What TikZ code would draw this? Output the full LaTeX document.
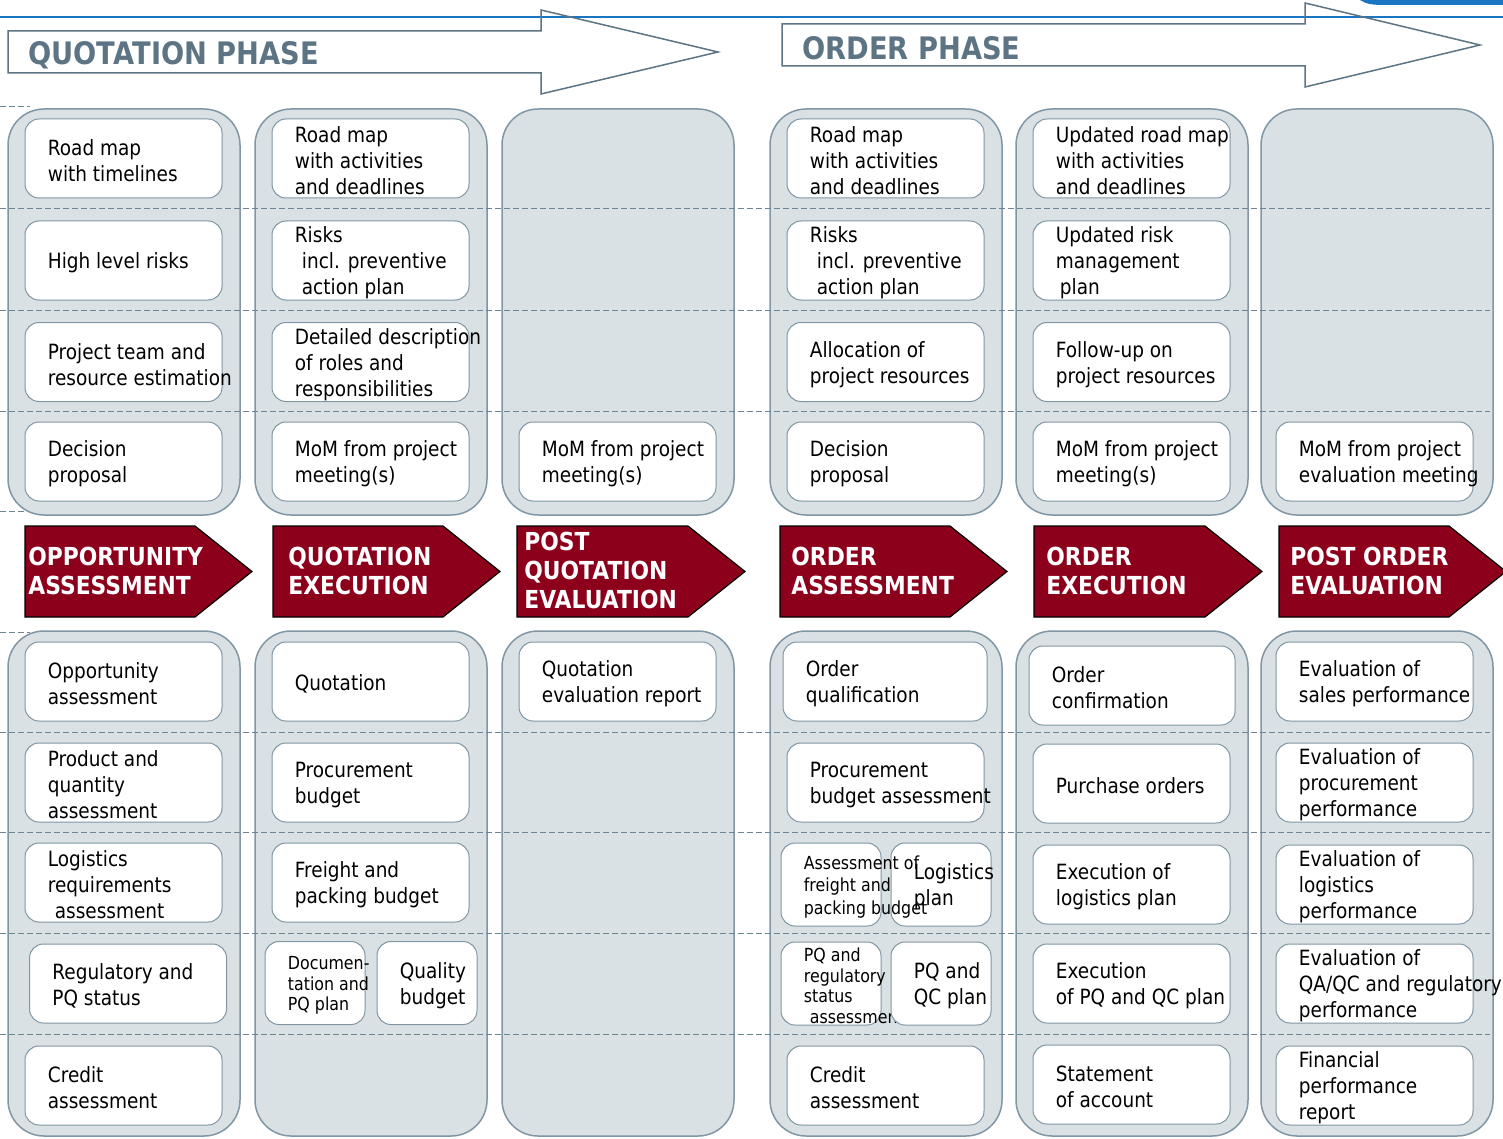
\documentclass[tikz,border=0pt]{standalone}
\usepackage{fontspec}
\setmainfont{DejaVu Sans}[FakeStretch=0.88]
\usepackage{tikz}

\definecolor{lanefill}{HTML}{D9E1E5}
\definecolor{laneline}{HTML}{8196A4}
\definecolor{boxline}{HTML}{8196A4}
\definecolor{rowdash}{HTML}{6B8595}
\definecolor{phasegray}{HTML}{5C7484}
\definecolor{stagered}{HTML}{8C001B}
\definecolor{topblue}{HTML}{1A75C2}

\tikzset{
  lane/.style={draw=laneline,fill=lanefill,line width=0.75pt,rounded corners=18pt},
  rowline/.style={draw=rowdash,line width=0.5pt,dash pattern=on 3pt off 1.5pt},
  taskbox/.style={draw=boxline,fill=white,line width=0.5pt,rounded corners=7pt,
    minimum width=98.5pt,minimum height=39.5pt,inner sep=0pt},
  tasktext/.style={anchor=west,align=left,inner sep=0pt,yshift=-1.2pt,
    font=\fontsize{10.5}{13}\selectfont},
  smalltext/.style={font=\fontsize{9}{10.3}\selectfont},
  halfbox/.style={minimum width=50pt,minimum height=41.5pt},
  stage/.style={fill=stagered,draw=black,line width=0.6pt},
  stagetext/.style={anchor=west,align=left,inner sep=0pt,text=white,
    font=\fontsize{12.4}{14.3}\selectfont\bfseries},
  phase/.style={draw=phasegray,line width=0.75pt},
  phasetext/.style={anchor=west,inner sep=0pt,text=phasegray,
    font=\fontsize{15.5}{18}\selectfont\bfseries}
}

% name, centre, text, box options, text options
\newcommand{\task}[5]{%
  \node[taskbox,#4] (#1) at (#2) {};
  \node[tasktext,#5] (#1-text) at ([xshift=11.5pt]#1.west) {#3};
}

\begin{document}
\begin{tikzpicture}[x=0.5pt,y=-0.5pt]
\useasboundingbox (0,0) rectangle (1503,1139);

% header
\draw[topblue,line width=1pt] (0,17) -- (1503,17);
\fill[topblue] (1360,0) .. controls (1366,4) and (1372,5) .. (1385,5) -- (1503,5) -- (1503,0) -- cycle;
\draw[phase] (8,31) -- (541,31) -- (541,10) -- (718,52) -- (541,94) -- (541,73) -- (8,73) -- cycle;
\node[phasetext] (quotphase) at (28,55) {QUOTATION PHASE};
\draw[phase] (782,24) -- (1305,24) -- (1305,3) -- (1480,45) -- (1305,87) -- (1305,66) -- (782,66) -- cycle;
\node[phasetext] (ordphase) at (802,48) {ORDER PHASE};

% lanes
\foreach \x in {8,255,502,770,1016,1261} {
  \draw[lane] (\x,109) rectangle ++(232,406);
  \draw[lane] (\x,631) rectangle ++(232,505);
}

% rows
\foreach \y in {209,310,411,732,832,933,1034}
  \draw[rowline] (0,\y) -- (1490,\y);
\draw[rowline] (0,107) -- (30,107);
\draw[rowline] (0,511) -- (25,511);
\draw[rowline] (0,632) -- (30,632);

% quotation phase, top
\task{t11}{123.5,158.5}{Road map\\with timelines}{}{}
\task{t12}{123.5,260.5}{High level risks}{}{}
\task{t13}{123.5,362}{Project team and\\resource estimation}{}{}
\task{t14}{123.5,461.5}{Decision\\proposal}{}{}
\task{t21}{370.5,158.5}{Road map\\with activities\\and deadlines}{}{}
\task{t22}{370.5,260.5}{Risks\\\hspace*{3.5pt}incl. preventive\\\hspace*{3.5pt}action plan}{}{}
\task{t23}{370.5,362}{Detailed description\\of roles and\\responsibilities}{}{}
\task{t24}{370.5,461.5}{MoM from project\\meeting(s)}{}{}
\task{t34}{617.5,461.5}{MoM from project\\meeting(s)}{}{}

% order phase, top
\task{t41}{885.5,158.5}{Road map\\with activities\\and deadlines}{}{}
\task{t42}{885.5,260.5}{Risks\\\hspace*{3.5pt}incl. preventive\\\hspace*{3.5pt}action plan}{}{}
\task{t43}{885.5,362}{Allocation of\\project resources}{}{}
\task{t44}{885.5,461.5}{Decision\\proposal}{}{}
\task{t51}{1131.5,158.5}{Updated road map\\with activities\\and deadlines}{}{}
\task{t52}{1131.5,260.5}{Updated risk\\management\\\hspace*{2pt}plan}{}{}
\task{t53}{1131.5,362}{Follow-up on\\project resources}{}{}
\task{t54}{1131.5,461.5}{MoM from project\\meeting(s)}{}{}
\task{t64}{1374.5,461.5}{MoM from project\\evaluation meeting}{}{}

% quotation phase, bottom
\task{b11}{123.5,681.5}{Opportunity\\assessment}{}{}
\task{b12}{123.5,782.5}{Product and\\quantity\\assessment}{}{}
\task{b13}{123.5,882.5}{Logistics\\requirements\\\hspace*{3.5pt}assessment}{}{}
\task{b14}{128,983.5}{Regulatory and\\PQ status}{}{}
\task{b15}{123.5,1085.5}{Credit\\assessment}{}{}
\task{b21}{370.5,681.5}{Quotation}{}{}
\task{b22}{370.5,782.5}{Procurement\\budget}{}{}
\task{b23}{370.5,882.5}{Freight and\\packing budget}{}{}
\task{b24a}{315,983}{Documen-\\tation and\\PQ plan}{halfbox}{smalltext}
\task{b24b}{427,983}{Quality\\budget}{halfbox}{}
\task{b31}{617.5,681.5}{Quotation\\evaluation report}{}{}

% order phase, bottom
\task{b41}{885,681.5}{Order\\qualification}{minimum width=102pt}{}
\task{b42}{885.5,782.5}{Procurement\\budget assessment}{}{}
\node[taskbox,halfbox] (b43a) at (831,884.5) {};
\node[taskbox,halfbox] (b43b) at (941,884.5) {};
\node[tasktext,font=\fontsize{9}{11.2}\selectfont] (b43a-text) at ([xshift=11.5pt]b43a.west) {Assessment of\\freight and\\packing budget};
\node[tasktext] (b43b-text) at ([xshift=11.5pt]b43b.west) {Logistics\\plan};
\task{b44a}{831,983.5}{PQ and\\regulatory\\status\\\hspace*{3pt}assessment}{halfbox}{smalltext}
\task{b44b}{941,983.5}{PQ and\\QC plan}{halfbox}{}
\task{b45}{885.5,1085.5}{Credit\\assessment}{}{}
\task{b51}{1132,685.5}{Order\\confirmation}{minimum width=103pt}{}
\task{b52}{1131.5,783.5}{Purchase orders}{}{}
\task{b53}{1131.5,884.5}{Execution of\\logistics plan}{}{}
\task{b54}{1131.5,983.5}{Execution\\of PQ and QC plan}{}{}
\task{b55}{1131.5,1084.5}{Statement\\of account}{}{}
\task{b61}{1374.5,681.5}{Evaluation of\\sales performance}{}{}
\task{b62}{1374.5,782.5}{Evaluation of\\procurement\\performance}{}{}
\task{b63}{1374.5,884.5}{Evaluation of\\logistics\\performance}{}{}
\task{b64}{1374.5,983.5}{Evaluation of\\QA/QC and regulatory\\performance}{}{}
\task{b65}{1374.5,1085.5}{Financial\\performance\\report}{}{}

% stages
\draw[stage] (25,526) -- ++(170,0) -- ++(57,45.5) -- ++(-57,45.5) -- ++(-170,0) -- cycle;
\node[stagetext] (oppassess) at (28,571) {OPPORTUNITY\\ASSESSMENT};
\draw[stage] (273,526) -- ++(170,0) -- ++(57,45.5) -- ++(-57,45.5) -- ++(-170,0) -- cycle;
\node[stagetext] (quotexec) at (288,571) {QUOTATION\\EXECUTION};
\draw[stage] (517,526) -- ++(171,0) -- ++(57,45.5) -- ++(-57,45.5) -- ++(-171,0) -- cycle;
\node[stagetext] (postquot) at (524,570.5) {POST\\QUOTATION\\EVALUATION};
\draw[stage] (780,526) -- ++(170,0) -- ++(57,45.5) -- ++(-57,45.5) -- ++(-170,0) -- cycle;
\node[stagetext] (ordassess) at (791,571) {ORDER\\ASSESSMENT};
\draw[stage] (1034,526) -- ++(171,0) -- ++(57,45.5) -- ++(-57,45.5) -- ++(-171,0) -- cycle;
\node[stagetext] (ordexec) at (1046,571) {ORDER\\EXECUTION};
\draw[stage] (1279,526) -- ++(170,0) -- ++(57,45.5) -- ++(-57,45.5) -- ++(-170,0) -- cycle;
\node[stagetext] (postord) at (1290,571) {POST ORDER\\EVALUATION};
\end{tikzpicture}
\end{document}
